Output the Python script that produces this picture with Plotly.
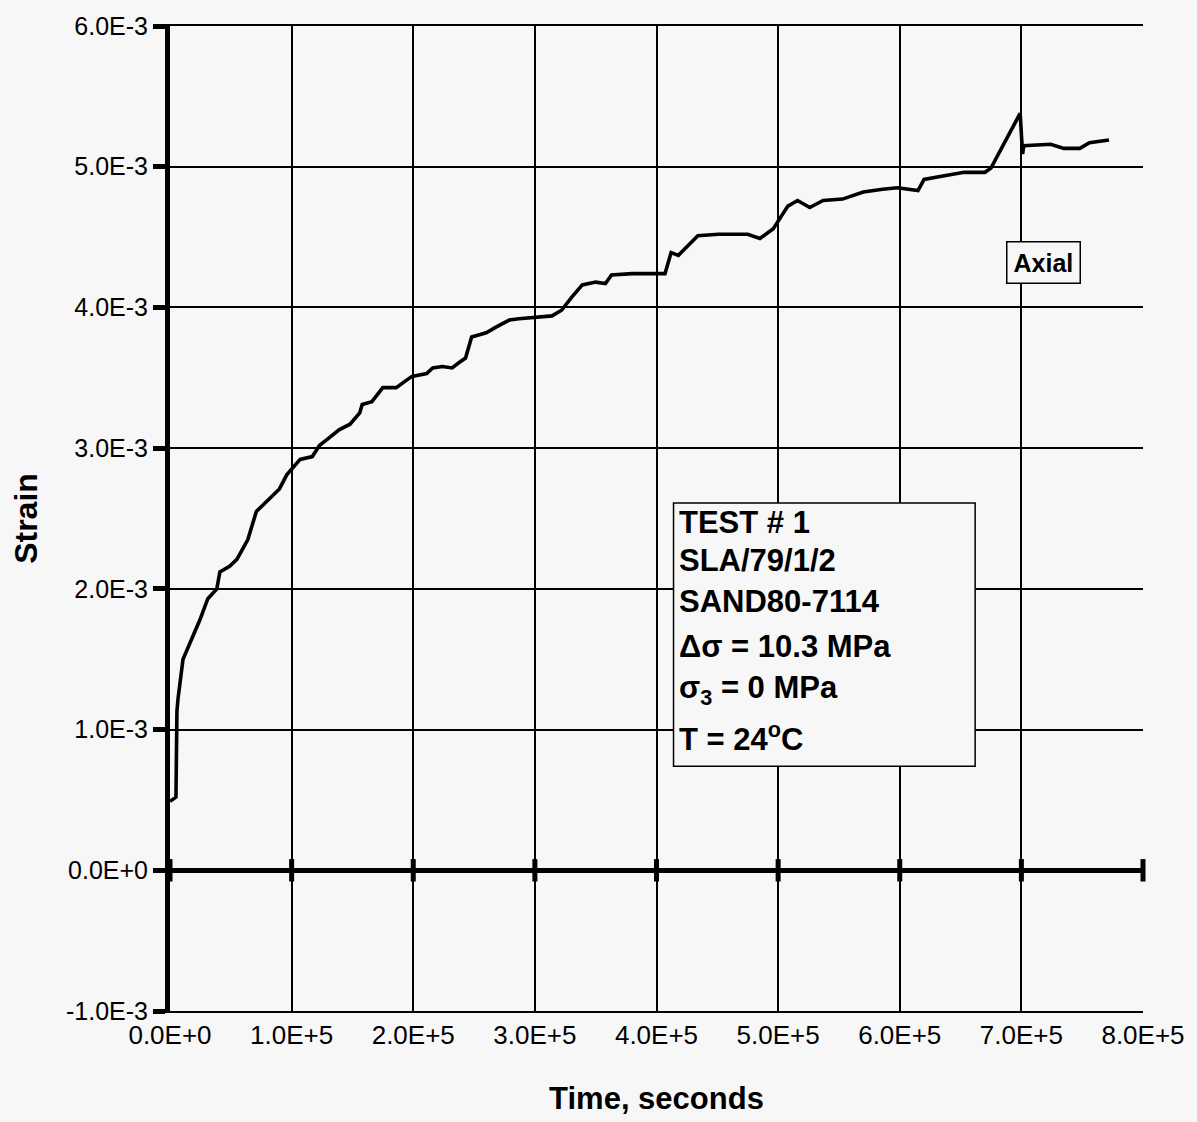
import plotly.graph_objects as go

# Creep curve (time in seconds, strain)
time_s = [0.0, 4.9e3, 5.7e3, 6.6e3, 1.07e4, 1.89e4, 2.46e4, 3.11e4, 3.85e4, 4.1e4,
          4.9e4, 5.5e4, 6.4e4, 7.1e4, 8.0e4, 9.0e4, 9.6e4, 1.01e5, 1.07e5, 1.17e5,
          1.23e5, 1.29e5, 1.39e5, 1.48e5, 1.56e5, 1.58e5, 1.66e5, 1.75e5, 1.86e5, 1.94e5,
          1.99e5, 2.11e5, 2.16e5, 2.24e5, 2.32e5, 2.38e5, 2.43e5, 2.48e5, 2.60e5, 2.68e5,
          2.79e5, 2.87e5, 3.01e5, 3.14e5, 3.22e5, 3.30e5, 3.39e5, 3.50e5, 3.58e5, 3.63e5,
          3.80e5, 3.96e5, 4.07e5, 4.12e5, 4.18e5, 4.26e5, 4.34e5, 4.51e5, 4.75e5, 4.85e5,
          4.96e5, 5.08e5, 5.16e5, 5.26e5, 5.37e5, 5.53e5, 5.70e5, 5.86e5, 5.98e5, 6.15e5,
          6.20e5, 6.39e5, 6.53e5, 6.70e5, 6.75e5, 6.99e5, 7.01e5, 7.02e5, 7.24e5, 7.35e5,
          7.48e5, 7.56e5, 7.72e5]
strain = [0.49e-3, 0.52e-3, 1.13e-3, 1.22e-3, 1.50e-3, 1.66e-3, 1.78e-3, 1.93e-3, 2.00e-3, 2.12e-3,
          2.16e-3, 2.21e-3, 2.35e-3, 2.55e-3, 2.63e-3, 2.71e-3, 2.81e-3, 2.86e-3, 2.92e-3, 2.94e-3,
          3.02e-3, 3.06e-3, 3.13e-3, 3.17e-3, 3.25e-3, 3.31e-3, 3.33e-3, 3.43e-3, 3.43e-3, 3.48e-3,
          3.51e-3, 3.53e-3, 3.57e-3, 3.58e-3, 3.57e-3, 3.61e-3, 3.64e-3, 3.79e-3, 3.82e-3, 3.86e-3,
          3.91e-3, 3.92e-3, 3.93e-3, 3.94e-3, 3.98e-3, 4.07e-3, 4.16e-3, 4.18e-3, 4.17e-3, 4.23e-3,
          4.24e-3, 4.24e-3, 4.24e-3, 4.39e-3, 4.37e-3, 4.44e-3, 4.51e-3, 4.52e-3, 4.52e-3, 4.49e-3,
          4.56e-3, 4.72e-3, 4.76e-3, 4.71e-3, 4.76e-3, 4.77e-3, 4.82e-3, 4.84e-3, 4.85e-3, 4.83e-3,
          4.91e-3, 4.94e-3, 4.96e-3, 4.96e-3, 4.99e-3, 5.38e-3, 5.09e-3, 5.15e-3, 5.16e-3, 5.13e-3,
          5.13e-3, 5.17e-3, 5.19e-3]

x_tick_vals = [0, 1e5, 2e5, 3e5, 4e5, 5e5, 6e5, 7e5, 8e5]
x_tick_text = ["0.0E+0", "1.0E+5", "2.0E+5", "3.0E+5", "4.0E+5", "5.0E+5", "6.0E+5", "7.0E+5", "8.0E+5"]
y_tick_vals = [-1e-3, 0, 1e-3, 2e-3, 3e-3, 4e-3, 5e-3, 6e-3]
y_tick_text = ["-1.0E-3", "0.0E+0", "1.0E-3", "2.0E-3", "3.0E-3", "4.0E-3", "5.0E-3", "6.0E-3"]

info_lines = ["TEST # 1", "SLA/79/1/2", "SAND80-7114", "Δσ = 10.3 MPa",
              "σ<sub>3</sub> = 0 MPa", "T = 24<sup>o</sup>C"]
series_label = "Axial"

BG = "#f7f7f7"
FONT = "Liberation Sans, Arial, sans-serif"

fig = go.Figure()

# tick stubs on the zero line
fig.add_trace(go.Scatter(
    x=x_tick_vals, y=[0] * len(x_tick_vals), mode="markers",
    marker=dict(symbol="line-ns", size=16, line=dict(width=5, color="black")),
    hoverinfo="skip", showlegend=False, cliponaxis=False))

fig.add_trace(go.Scatter(
    x=time_s, y=strain, mode="lines",
    line=dict(color="black", width=3.6), showlegend=False))

fig.update_layout(
    width=1197, height=1122,
    margin=dict(l=170, r=52, t=24, b=108),
    paper_bgcolor=BG, plot_bgcolor=BG,
    font=dict(family=FONT, color="black", size=26),
)

fig.update_xaxes(
    range=[0, 8e5], tickmode="array", tickvals=x_tick_vals, ticktext=x_tick_text,
    showgrid=True, gridcolor="black", gridwidth=2,
    showline=True, linecolor="black", linewidth=2, mirror=True,
    zeroline=False, ticks="", tickfont=dict(size=26),
    title=dict(text="<b>Time, seconds</b>", font=dict(size=31), standoff=38),
)
fig.update_yaxes(
    range=[-1e-3, 6e-3], tickmode="array", tickvals=y_tick_vals, ticktext=y_tick_text,
    showgrid=True, gridcolor="black", gridwidth=2,
    showline=True, linecolor="black", linewidth=5,
    zeroline=True, zerolinecolor="black", zerolinewidth=5,
    ticks="outside", ticklen=12, tickwidth=5, tickcolor="black",
    tickfont=dict(size=25),
    title=dict(text="<b>Strain</b>", font=dict(size=32), standoff=20),
)

# info box
fig.add_shape(type="rect", xref="x", yref="y",
              x0=4.14e5, x1=6.62e5, y0=0.74e-3, y1=2.61e-3,
              line=dict(color="black", width=1.5), fillcolor=BG, layer="above")
line_y = [2.47e-3, 2.20e-3, 1.91e-3, 1.59e-3, 1.28e-3, 0.95e-3]
for txt, yy in zip(info_lines, line_y):
    fig.add_annotation(x=4.17e5, y=yy, xref="x", yref="y", text="<b>" + txt + "</b>",
                       showarrow=False, xanchor="left", yanchor="middle",
                       font=dict(size=31, family=FONT, color="black"))

fig.add_annotation(x=7.18e5, y=4.32e-3, xref="x", yref="y", text="<b>" + series_label + "</b>",
                   showarrow=False, xanchor="center", yanchor="middle",
                   font=dict(size=25, family=FONT, color="black"),
                   bordercolor="black", borderwidth=1.5, borderpad=6, bgcolor=BG)

fig.write_html("out.html")
